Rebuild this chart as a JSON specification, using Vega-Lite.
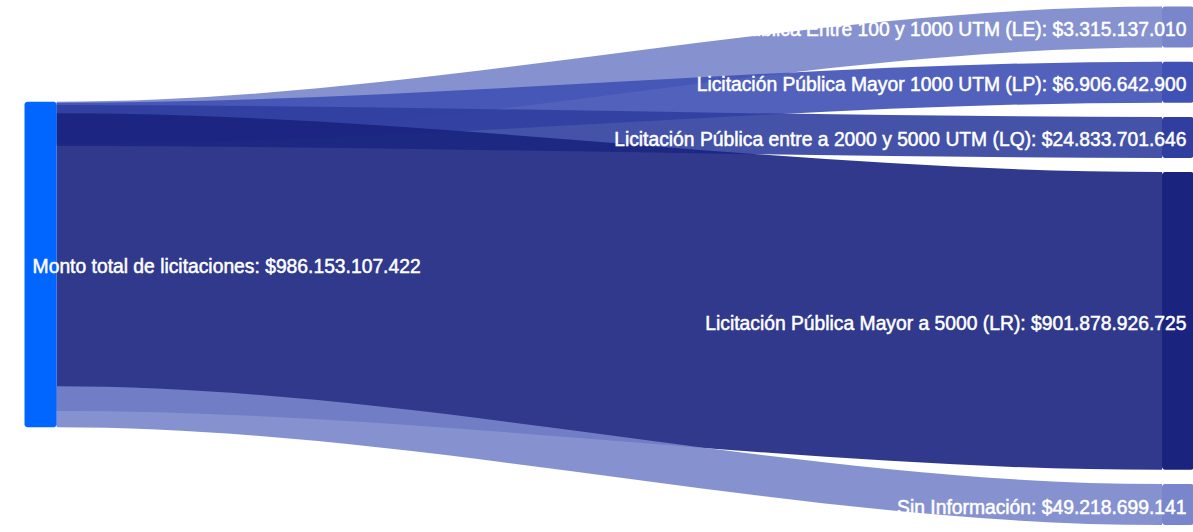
{
  "$schema": "https://vega.github.io/schema/vega-lite/v6.json",
  "width": 1193,
  "height": 532,
  "autosize": {"type": "none"},
  "padding": 0,
  "background": "white",
  "config": {"view": {"stroke": null}},
  "datasets": {
    "links": [
      {"target": "LE", "x": -1, "y": -288.3, "y2": -164.1},
      {"target": "LE", "x": 0, "y": 0, "y2": 124.2},
      {"target": "LE", "x": 1, "y": -288.3, "y2": -164.1},
      {"target": "LE", "x": 2, "y": 0, "y2": 124.2},
      {"target": "LP", "x": -1, "y": -121.1, "y2": 3.1},
      {"target": "LP", "x": 0, "y": 3.315, "y2": 127.5},
      {"target": "LP", "x": 1, "y": -121.1, "y2": 3.1},
      {"target": "LP", "x": 2, "y": 3.315, "y2": 127.5},
      {"target": "LQ", "x": -1, "y": 46.0, "y2": 170.2},
      {"target": "LQ", "x": 0, "y": 10.222, "y2": 134.4},
      {"target": "LQ", "x": 1, "y": 46.0, "y2": 170.2},
      {"target": "LQ", "x": 2, "y": 10.222, "y2": 134.4},
      {"target": "LR", "x": -1, "y": 213.2, "y2": 1115.1},
      {"target": "LR", "x": 0, "y": 35.055, "y2": 936.934},
      {"target": "LR", "x": 1, "y": 213.2, "y2": 1115.1},
      {"target": "LR", "x": 2, "y": 35.055, "y2": 936.934},
      {"target": "SIN", "x": -1, "y": 1158.2, "y2": 1282.4},
      {"target": "SIN", "x": 0, "y": 861.95, "y2": 986.153},
      {"target": "SIN", "x": 1, "y": 1158.2, "y2": 1282.4},
      {"target": "SIN", "x": 2, "y": 861.95, "y2": 986.153}
    ],
    "nodes": [
      {"node": "TOTAL", "side": "source", "x0": -0.02913, "x1": 0, "y0": 0, "y1": 986.153, "mid": 493.08, "lx": -0.0218, "label": "Monto total de licitaciones: $986.153.107.422"},
      {"node": "LE", "side": "target", "x0": 1, "x1": 1.02895, "y0": -288.3, "y1": -164.1, "mid": -226.2, "lx": 1.0222, "label": "Licitación Pública Entre 100 y 1000 UTM (LE): $3.315.137.010"},
      {"node": "LP", "side": "target", "x0": 1, "x1": 1.02895, "y0": -121.1, "y1": 3.1, "mid": -59.0, "lx": 1.0222, "label": "Licitación Pública Mayor 1000 UTM (LP): $6.906.642.900"},
      {"node": "LQ", "side": "target", "x0": 1, "x1": 1.02895, "y0": 46.0, "y1": 170.2, "mid": 108.1, "lx": 1.0222, "label": "Licitación Pública entre a 2000 y 5000 UTM (LQ): $24.833.701.646"},
      {"node": "LR", "side": "target", "x0": 1, "x1": 1.02895, "y0": 213.2, "y1": 1115.1, "mid": 664.15, "lx": 1.0222, "label": "Licitación Pública Mayor a 5000 (LR): $901.878.926.725"},
      {"node": "SIN", "side": "target", "x0": 1, "x1": 1.02895, "y0": 1158.2, "y1": 1282.4, "mid": 1220.3, "lx": 1.0222, "label": "Sin Información: $49.218.699.141"}
    ]
  },
  "layer": [
    {
      "mark": {"type": "rule", "color": "#e6e6e6", "strokeWidth": 1.5},
      "encoding": {
        "x": {"datum": -0.0459, "type": "quantitative", "scale": {"domain": [-0.0513, 1.02805], "nice": false, "zero": false}, "axis": null},
        "y": {"datum": -291.4, "type": "quantitative", "scale": {"domain": [-308.0, 1303.3], "nice": false, "zero": false, "reverse": true}, "axis": null},
        "x2": {"datum": 1.2}
      }
    },
    {
      "mark": {"type": "rule", "color": "#e6e6e6", "strokeWidth": 1.5},
      "encoding": {
        "x": {"datum": -0.0459, "type": "quantitative", "scale": {"domain": [-0.0513, 1.02805], "nice": false, "zero": false}, "axis": null},
        "y": {"datum": -291.4, "type": "quantitative", "scale": {"domain": [-308.0, 1303.3], "nice": false, "zero": false, "reverse": true}, "axis": null},
        "y2": {"datum": 1500}
      }
    },
    {
      "data": {"name": "links"},
      "mark": {"type": "area", "interpolate": "cardinal-open", "tension": 0, "opacity": 0.9},
      "encoding": {
        "x": {"field": "x", "type": "quantitative", "scale": {"domain": [-0.0513, 1.02805], "nice": false, "zero": false}, "axis": null},
        "y": {"field": "y", "type": "quantitative", "scale": {"domain": [-308.0, 1303.3], "nice": false, "zero": false, "reverse": true}, "axis": null},
        "y2": {"field": "y2"},
        "color": {"field": "target", "type": "nominal", "legend": null, "scale": {"domain": ["TOTAL", "LE", "LP", "LQ", "LR", "SIN"], "range": ["#0066ff", "#7986cb", "#3f51b5", "#303f9f", "#1a237e", "#7986cb"]}}
      }
    },
    {
      "data": {"name": "nodes"},
      "mark": {"type": "rect", "cornerRadius": 3},
      "encoding": {
        "x": {"field": "x0", "type": "quantitative", "scale": {"domain": [-0.0513, 1.02805], "nice": false, "zero": false}, "axis": null},
        "x2": {"field": "x1"},
        "y": {"field": "y0", "type": "quantitative", "scale": {"domain": [-308.0, 1303.3], "nice": false, "zero": false, "reverse": true}, "axis": null},
        "y2": {"field": "y1"},
        "color": {"field": "node", "type": "nominal", "legend": null, "scale": {"domain": ["TOTAL", "LE", "LP", "LQ", "LR", "SIN"], "range": ["#0066ff", "#7986cb", "#3f51b5", "#303f9f", "#1a237e", "#7986cb"]}}
      }
    },
    {
      "data": {"name": "nodes"},
      "transform": [{"filter": "datum.side === 'source'"}],
      "mark": {"type": "text", "align": "left", "baseline": "middle", "dy": 3, "font": "Liberation Sans", "fontSize": 19.3, "fill": "#ffffff", "stroke": "#ffffff", "strokeWidth": 0.5},
      "encoding": {
        "x": {"field": "lx", "type": "quantitative", "scale": {"domain": [-0.0513, 1.02805], "nice": false, "zero": false}, "axis": null},
        "y": {"field": "mid", "type": "quantitative", "scale": {"domain": [-308.0, 1303.3], "nice": false, "zero": false, "reverse": true}, "axis": null},
        "text": {"field": "label"}
      }
    },
    {
      "data": {"name": "nodes"},
      "transform": [{"filter": "datum.side === 'target'"}],
      "mark": {"type": "text", "align": "right", "baseline": "middle", "dy": 3, "font": "Liberation Sans", "fontSize": 19.3, "fill": "#ffffff", "stroke": "#ffffff", "strokeWidth": 0.5},
      "encoding": {
        "x": {"field": "lx", "type": "quantitative", "scale": {"domain": [-0.0513, 1.02805], "nice": false, "zero": false}, "axis": null},
        "y": {"field": "mid", "type": "quantitative", "scale": {"domain": [-308.0, 1303.3], "nice": false, "zero": false, "reverse": true}, "axis": null},
        "text": {"field": "label"}
      }
    }
  ]
}
